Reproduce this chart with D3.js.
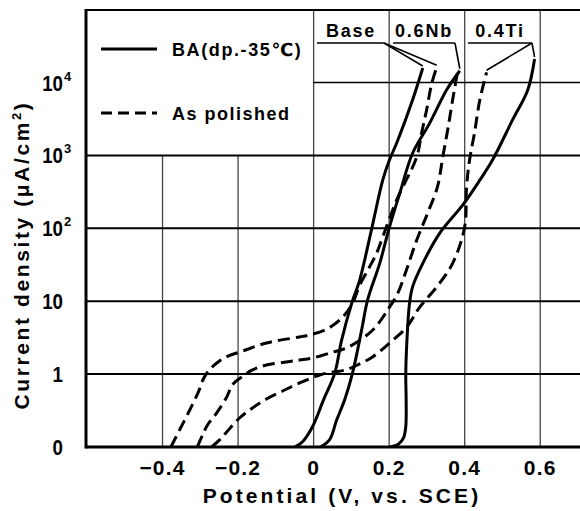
<!DOCTYPE html>
<html><head><meta charset="utf-8">
<script src="https://cdn.jsdelivr.net/npm/d3@7"></script>
<style>
html,body{margin:0;padding:0;background:#fff;}
svg{display:block;}
text{font-family:"Liberation Sans",Arial,"DejaVu Sans",sans-serif;font-weight:bold;fill:#000;}
</style></head>
<body>
<svg id="chart" width="580" height="511"></svg>
<script>
// ---- data (potential V vs SCE, current density µA/cm²) ----
const baseBA_V   = [-0.05,-0.03,-0.003,0.026,0.056,0.074,0.101,0.122,0.154,0.183,0.201,0.22,0.262,0.289];
const baseBA_I   = [0.1,0.117,0.19,0.44,1.03,2.9,9.4,19.5,100,457,870,1480,5750,15800];
const nbBA_V     = [0.018,0.042,0.061,0.082,0.103,0.127,0.143,0.175,0.201,0.228,0.262,0.307,0.352,0.387];
const nbBA_I     = [0.1,0.125,0.234,0.44,1.03,4.0,10.4,33,105,300,1070,2750,7900,14500];
const tiBA_V     = [0.203,0.225,0.238,0.244,0.245,0.244,0.249,0.254,0.262,0.289,0.334,0.395,0.44,0.474,0.527,0.567,0.585];
const tiBA_I     = [0.1,0.11,0.133,0.19,0.44,1.03,4.4,9.4,15.7,33,86,209,457,870,3090,7900,21000];
const basePol_V  = [-0.378,-0.355,-0.328,-0.305,-0.29,-0.272,-0.252,-0.225,-0.196,-0.125,-0.037,-0.011,0.029,0.069,0.101,0.122,0.148,0.167,0.183,0.220,0.273,0.286,0.299,0.313,0.326];
const basePol_I  = [0.1,0.171,0.322,0.57,0.9,1.2,1.48,1.78,2.0,2.67,3.23,3.44,4.0,5.5,8.9,16.6,29.5,45.7,76,245,955,2040,4170,9800,16200];
const nbPol_V    = [-0.308,-0.294,-0.281,-0.257,-0.230,-0.215,-0.191,-0.162,-0.125,-0.072,-0.037,-0.003,0.050,0.087,0.156,0.201,0.223,0.246,0.273,0.302,0.328,0.342,0.355,0.368,0.381];
const nbPol_I    = [0.1,0.146,0.2,0.292,0.485,0.71,0.91,1.14,1.33,1.47,1.56,1.66,2.0,2.28,4.0,8.3,12.9,27,69,162,372,955,2240,5750,13800];
const tiPol_V    = [-0.27,-0.249,-0.230,-0.196,-0.162,-0.125,-0.082,-0.037,0.024,0.087,0.122,0.156,0.201,0.246,0.281,0.326,0.368,0.400,0.405,0.413,0.426,0.440,0.458];
const tiPol_I    = [0.1,0.125,0.161,0.25,0.343,0.455,0.586,0.755,1.0,1.15,1.38,1.72,2.67,4.4,8.3,15.7,33,105,372,870,2040,5750,13800];

const xTicks = [-0.4,-0.2,0,0.2,0.4,0.6];
const xTickLabels = ["\u22120.4","\u22120.2","0","0.2","0.4","0.6"];
const yTicks = [0.1,1,10,100,1000,10000];
const yTickBase = ["0","1","10","10","10","10"];
const yTickExp  = ["","","","2","3","4"];
const legendLabels = ["BA(dp.-35\u2103)","As polished"];
const alloyLabels = ["Base","0.6Nb","0.4Ti"];

// ---- scales ----
const svg = d3.select("#chart");
const x = d3.scaleLinear().domain([-0.6,0.7]).range([87,578]);
const y = d3.scaleLog().domain([0.1,1e5]).range([447,9.6]);
const L = 86, R = 580, T = 10, B = 447;

// ---- grid ----
const g = svg.append("g");
xTicks.forEach(v=>{
  g.append("line").attr("x1",x(v)).attr("x2",x(v))
    .attr("y1", v<0 ? y(1000) : T).attr("y2",B)
    .attr("stroke","#444").attr("stroke-width",1.3);
});
[1,10,100,1000].forEach(v=>{
  g.append("line").attr("x1",L).attr("x2",R).attr("y1",y(v)).attr("y2",y(v))
    .attr("stroke","#000").attr("stroke-width",2);
});
g.append("line").attr("x1",x(0)).attr("x2",R).attr("y1",y(10000)).attr("y2",y(10000))
  .attr("stroke","#000").attr("stroke-width",1.6);
g.append("line").attr("x1",L).attr("x2",R).attr("y1",T).attr("y2",T).attr("stroke","#000").attr("stroke-width",2.2);
g.append("line").attr("x1",L).attr("x2",L).attr("y1",T-1).attr("y2",B+1.5).attr("stroke","#000").attr("stroke-width",3);
g.append("line").attr("x1",L).attr("x2",R).attr("y1",B).attr("y2",B).attr("stroke","#000").attr("stroke-width",3);

// ---- ticks ----
xTicks.forEach((v,i)=>{
  svg.append("text").attr("x",x(v)).attr("y",475).attr("text-anchor","middle")
    .style("font-size","21px").style("letter-spacing","1.2px").text(xTickLabels[i]);
});
yTicks.forEach((v,i)=>{
  svg.append("text").attr("transform",`translate(63,${y(v)+8}) scale(0.85,1)`).attr("text-anchor","end")
    .style("font-size","22px").text(yTickBase[i]);
  if(yTickExp[i]) svg.append("text").attr("x",64).attr("y",y(v)-2).attr("text-anchor","start")
    .style("font-size","13px").text(yTickExp[i]);
});
// axis titles
svg.append("text").attr("x",342).attr("y",503).attr("text-anchor","middle")
  .style("font-size","21px").style("letter-spacing","3.1px").text("Potential (V, vs. SCE)");
const yt = svg.append("text").attr("transform","translate(29,255) rotate(-90)").attr("text-anchor","middle")
  .style("font-size","21px").style("letter-spacing","2.6px");
yt.append("tspan").text("Current density (\u03bcA/cm");
yt.append("tspan").attr("dy",-8).style("font-size","13px").text("2");
yt.append("tspan").attr("dy",8).text(")");

// ---- curves ----
svg.append("clipPath").attr("id","clip").append("rect").attr("x",L).attr("y",T).attr("width",R-L).attr("height",B-T);
const line = d3.line().x(d=>x(d[0])).y(d=>y(d[1])).curve(d3.curveCatmullRom.alpha(0.5));
const series = [
  {V:baseBA_V,I:baseBA_I,dash:null},
  {V:nbBA_V,I:nbBA_I,dash:null},
  {V:tiBA_V,I:tiBA_I,dash:null},
  {V:basePol_V,I:basePol_I,dash:"12,6"},
  {V:nbPol_V,I:nbPol_I,dash:"12,6"},
  {V:tiPol_V,I:tiPol_I,dash:"12,6"}
];
const cg = svg.append("g").attr("clip-path","url(#clip)");
series.forEach(s=>{
  cg.append("path").datum(s.V.map((v,i)=>[v,s.I[i]])).attr("d",line)
    .attr("fill","none").attr("stroke","#000").attr("stroke-width",3)
    .attr("stroke-dasharray",s.dash).attr("stroke-linecap","butt");
});

// ---- legend ----
svg.append("line").attr("x1",101).attr("x2",157).attr("y1",49).attr("y2",49).attr("stroke","#000").attr("stroke-width",3);
svg.append("line").attr("x1",101).attr("x2",157).attr("y1",113).attr("y2",113).attr("stroke","#000").attr("stroke-width",3).attr("stroke-dasharray","11,6");
svg.append("text").attr("x",172).attr("y",56).style("font-size","18px").style("letter-spacing","1.6px").text(legendLabels[0]);
svg.append("text").attr("x",172).attr("y",120).style("font-size","18px").style("letter-spacing","1.5px").text(legendLabels[1]);

// ---- alloy labels with leaders ----
const last = s => [x(s.V[s.V.length-1]), y(s.I[s.I.length-1])];
const labs = [
  {t:alloyLabels[0], cx:351, u0:317, u1:384, ends:[last(series[0]), last(series[3])]},
  {t:alloyLabels[1], cx:424, u0:393, u1:455, ends:[last(series[1])]},
  {t:alloyLabels[2], cx:500, u0:468, u1:532, ends:[last(series[2]), last(series[5])]}
];
labs.forEach(l=>{
  svg.append("text").attr("x",l.cx).attr("y",37).attr("text-anchor","middle")
    .style("font-size","18px").style("letter-spacing","1.8px").text(l.t);
  svg.append("line").attr("x1",l.u0).attr("x2",l.u1).attr("y1",43).attr("y2",43).attr("stroke","#000").attr("stroke-width",1.6);
  l.ends.forEach(e=>{
    svg.append("line").attr("x1",l.u1).attr("y1",43).attr("x2",e[0]).attr("y2",e[1]-2)
      .attr("stroke","#000").attr("stroke-width",1.6);
  });
});
</script>
</body></html>
